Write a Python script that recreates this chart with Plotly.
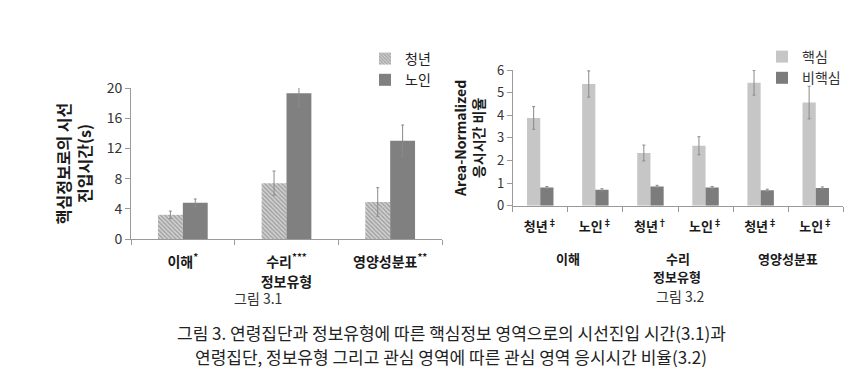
import plotly.graph_objects as go

W, H = 868, 390
OFF = 8  # page body margin in the browser
KFONT = "Noto Sans CJK KR"

# ---- Figure 3.1 data ----
cats1 = ["이해<sup>*</sup>", "수리<sup>***</sup>", "영양성분표<sup>**</sup>"]
young_time = [3.2, 7.4, 4.9]
young_err = [0.5, 1.6, 1.9]
old_time = [4.8, 19.3, 13.0]
old_err = [0.5, 1.8, 2.1]
yticks1 = [0, 4, 8, 12, 16, 20]

# ---- Figure 3.2 data ----
groups2 = ["이해", "수리", "영양성분표"]
age_labels2 = ["청년<sup>‡</sup>", "노인<sup>‡</sup>", "청년<sup>†</sup>",
               "노인<sup>‡</sup>", "청년<sup>‡</sup>", "노인<sup>‡</sup>"]
x2 = [0, 1, 2, 3, 4, 5]
core_ratio = [3.88, 5.38, 2.33, 2.65, 5.44, 4.56]
core_err = [0.5, 0.58, 0.35, 0.4, 0.55, 0.72]
noncore_ratio = [0.8, 0.7, 0.85, 0.8, 0.68, 0.78]
noncore_err = [0.05, 0.05, 0.05, 0.05, 0.05, 0.05]
yticks2 = [0, 1, 2, 3, 4, 5, 6]


def px_x(p):
    return (p - OFF) / W


def px_y(p):
    return 1 - (p - OFF) / H


ERR = dict(type="data", color="#8a8a8a", thickness=1, width=1.5)

fig = go.Figure()

fig.add_trace(go.Bar(
    x=cats1, y=young_time, name="청년",
    error_y=dict(array=young_err, **ERR),
    marker=dict(color="#d8d8d8", line=dict(width=0),
                pattern=dict(shape="\\", fgcolor="#727272", bgcolor="#dadada",
                             size=3, solidity=0.6)),
    xaxis="x", yaxis="y", legend="legend",
))
fig.add_trace(go.Bar(
    x=cats1, y=old_time, name="노인",
    error_y=dict(array=old_err, **ERR),
    marker=dict(color="#808080", line=dict(width=0)),
    xaxis="x", yaxis="y", legend="legend",
))

fig.add_trace(go.Bar(
    x=x2, y=core_ratio, name="핵심",
    error_y=dict(array=core_err, **ERR),
    marker=dict(color="#c6c6c6", line=dict(width=0)),
    xaxis="x2", yaxis="y2", legend="legend2",
))
fig.add_trace(go.Bar(
    x=x2, y=noncore_ratio, name="비핵심",
    error_y=dict(array=noncore_err, **ERR),
    marker=dict(color="#7c7c7c", line=dict(width=0)),
    xaxis="x2", yaxis="y2", legend="legend2",
))

axis_common = dict(showgrid=False, zeroline=False, showline=True,
                   linecolor="#9a9a9a", linewidth=1, tickcolor="#9a9a9a",
                   ticks="outside", ticklen=5, tickwidth=1, automargin=False)


def note(x, y, text, size, color="#1a1a1a", xref="paper"):
    return dict(x=x, y=y, xref=xref, yref="paper", text=text, showarrow=False,
                xanchor="center", yanchor="middle",
                font=dict(size=size, color=color, family=KFONT))


annotations = [note(2 * i + 0.5, px_y(258), "<b>%s</b>" % g, 13, xref="x2")
               for i, g in enumerate(groups2)]

annotations += [
    note(px_x(677), px_y(276), "<b>정보유형</b>", 13),
    note(px_x(258), px_y(298), "그림 3.1", 14, "#333333"),
    note(px_x(680), px_y(296), "그림 3.2", 14, "#333333"),
    note(px_x(451), px_y(332),
         "그림 3. 연령집단과 정보유형에 따른 핵심정보 영역으로의 시선진입 시간(3.1)과",
         17, "#222222"),
    note(px_x(451), px_y(356),
         "연령집단, 정보유형 그리고 관심 영역에 따른 관심 영역 응시시간 비율(3.2)",
         17, "#222222"),
]

fig.update_layout(
    width=W, height=H,
    margin=dict(l=0, r=0, t=0, b=0, autoexpand=False),
    paper_bgcolor="white", plot_bgcolor="white",
    font=dict(family=KFONT, color="#222222", size=14),
    barmode="group",
    bargap=0.52, bargroupgap=0,
    showlegend=True,
    xaxis=dict(domain=[px_x(131), px_x(442)], anchor="y",
               tickson="boundaries", ticklabelstandoff=10,
               tickfont=dict(size=14, color="#1a1a1a"),
               tickprefix="<b>", ticksuffix="</b>",
               title=dict(text="<b>정보유형</b>", standoff=0,
                          font=dict(size=14, color="#1a1a1a")),
               **axis_common),
    yaxis=dict(domain=[px_y(239), px_y(88)], anchor="x", range=[0, 20],
               tickvals=yticks1, tickfont=dict(size=14, color="#333333"),
               title=dict(text="<b>핵심정보로의 시선<br>진입시간(s)</b>", standoff=11,
                          font=dict(size=16, color="#1a1a1a")),
               **axis_common),
    xaxis2=dict(domain=[px_x(512.7), px_x(843.3)], anchor="y2",
                range=[-0.5, 5.5], tickvals=x2,
                ticktext=["<b>%s</b>" % t for t in age_labels2],
                tickfont=dict(size=13, color="#1a1a1a"),
                showgrid=False, zeroline=False, showline=True,
                linecolor="#9a9a9a", linewidth=1, ticks="",
                ticklabelstandoff=9, automargin=False,
                minor=dict(tick0=0.5, dtick=1, ticks="outside", ticklen=5,
                           tickcolor="#9a9a9a", tickwidth=1, showgrid=False)),
    yaxis2=dict(domain=[px_y(205.7), px_y(70)], anchor="x2", range=[0, 6],
                tickvals=yticks2, tickfont=dict(size=13, color="#333333"),
                title=dict(text="<b>Area-Normalized<br>응시시간 비율</b>", standoff=8,
                           font=dict(size=14, color="#1a1a1a")),
                **axis_common),
    legend=dict(x=px_x(365), y=px_y(43), xanchor="left", yanchor="top",
                bgcolor="rgba(0,0,0,0)", font=dict(size=14, color="#222222"),
                itemwidth=30, tracegroupgap=0, traceorder="normal"),
    legend2=dict(x=px_x(762), y=px_y(41), xanchor="left", yanchor="top",
                 bgcolor="rgba(0,0,0,0)", font=dict(size=14, color="#333333"),
                 itemwidth=30, tracegroupgap=0, traceorder="normal"),
    annotations=annotations,
)

fig.write_html("out.html")
